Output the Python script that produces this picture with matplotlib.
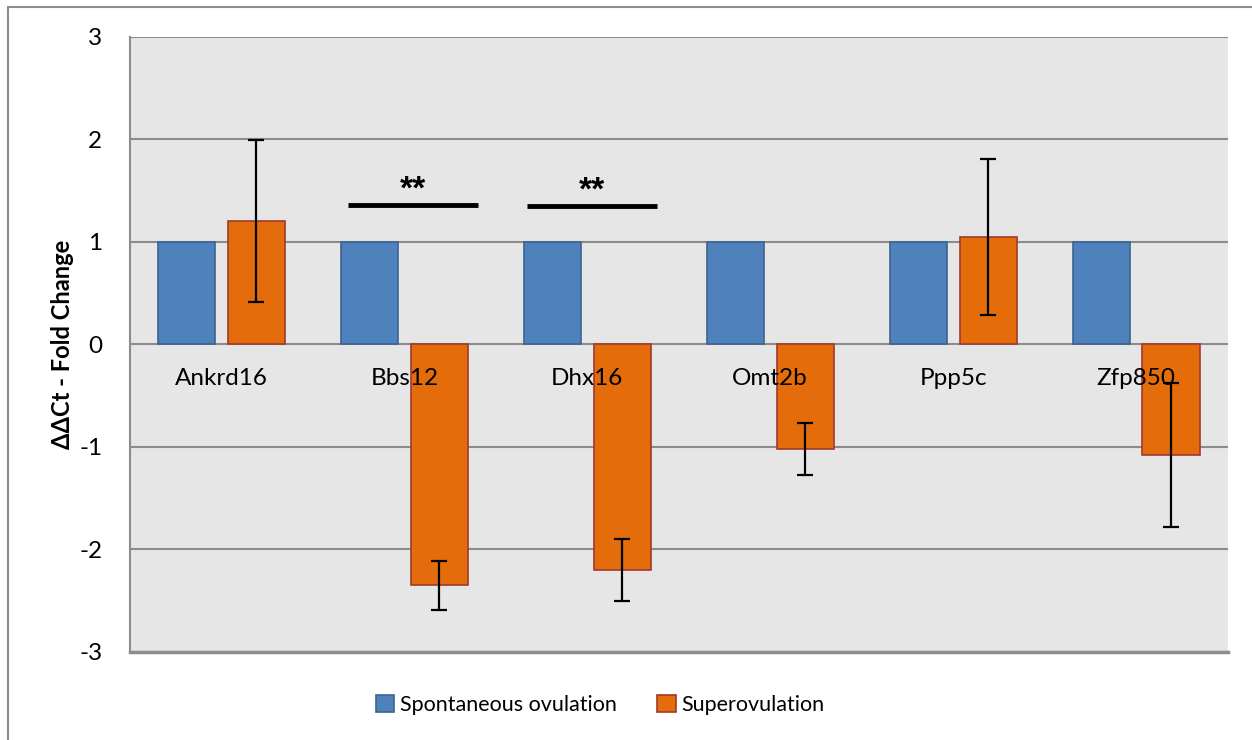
import matplotlib
matplotlib.use("Agg")
import matplotlib.pyplot as plt
from matplotlib.patches import Rectangle, Patch
import numpy as np

plt.rcParams['font.family'] = ['Lato', 'DejaVu Sans']

genes = ["Ankrd16", "Bbs12", "Dhx16", "Omt2b", "Ppp5c", "Zfp850"]
spontaneous = [1.0, 1.0, 1.0, 1.0, 1.0, 1.0]
superovulation = [1.20, -2.35, -2.20, -1.02, 1.045, -1.08]
superovulation_err = [0.79, 0.24, 0.30, 0.25, 0.76, 0.70]
series_names = ["Spontaneous ovulation", "Superovulation"]
y_ticks = [-3, -2, -1, 0, 1, 2, 3]

# significance markers: (gene index, bar start offset, bar end offset, height, label)
significance = [(1, -0.31, 0.40, 1.36, "**"), (2, -0.33, 0.38, 1.35, "**")]

W, H = 1252, 740
fig = plt.figure(figsize=(W / 100, H / 100), dpi=100)

# outer chart frame
fig.patches.append(Rectangle((8 / W, -0.1), 1.2, 1 - 7 / H + 0.1,
                             transform=fig.transFigure, fill=False,
                             edgecolor="#8c8c8c", linewidth=1.5))

ax = fig.add_axes([130 / W, (H - 652) / H, (1227.5 - 130) / W, (652 - 36.7) / H])
ax.set_facecolor("#e6e6e6")

x = np.arange(len(genes))
bw = 0.312
off = 0.191
blue, blue_edge = "#4f81bd", "#3b6391"
orange, orange_edge = "#e46c0a", "#a0392e"

ax.bar(x - off, spontaneous, bw, color=blue, edgecolor=blue_edge, linewidth=1.2, zorder=3)
ax.bar(x + off, superovulation, bw, color=orange, edgecolor=orange_edge, linewidth=1.2, zorder=3)
ax.errorbar(x + off, superovulation, yerr=superovulation_err, fmt="none",
            ecolor="black", elinewidth=1.6, capsize=5.5, capthick=1.6, zorder=5)

ax.set_xlim(-0.5, len(genes) - 0.5)
ax.set_ylim(-3, 3)
ax.set_yticks(y_ticks)
ax.set_yticklabels([str(t) for t in y_ticks])
ax.set_xticks([])
ax.tick_params(axis="y", length=0, pad=20, labelsize=17.5)
ax.yaxis.grid(True, color="#8c8c8c", linewidth=1.5, zorder=1)
ax.set_axisbelow(True)
for side in ["top", "right"]:
    ax.spines[side].set_visible(False)
ax.spines["left"].set_color("#8c8c8c")
ax.spines["left"].set_linewidth(1.5)
ax.spines["bottom"].set_color("#8c8c8c")
ax.spines["bottom"].set_linewidth(2.5)

# category labels sit just below the zero line
for i, g in enumerate(genes):
    ax.text(i, -0.33, g, ha="center", va="center", fontsize=17.5, zorder=6)

for i, a, b, h, lab in significance:
    ax.plot([i + a, i + b], [h, h], color="black", linewidth=3.5, solid_capstyle="butt", zorder=6)
    ax.text(i + (a + b) / 2, h + 0.14, lab, ha="center", va="center",
            fontsize=24, fontweight="bold", family="Liberation Sans", zorder=6)

fig.text(62 / W, 1 - 344 / H, "ΔΔCt - Fold Change", rotation=90, ha="center", va="center",
         fontsize=17, fontweight="bold")

handles = [Patch(facecolor=blue, edgecolor=blue_edge, linewidth=1.2),
           Patch(facecolor=orange, edgecolor=orange_edge, linewidth=1.2)]
fig.legend(handles, series_names, loc="center", bbox_to_anchor=(600 / W, 1 - 705 / H),
           ncol=2, frameon=False, fontsize=15.5, handlelength=0.85, handleheight=0.85,
           handletextpad=0.25, columnspacing=1.9)

fig.savefig("out.png", dpi=100, facecolor="white")
